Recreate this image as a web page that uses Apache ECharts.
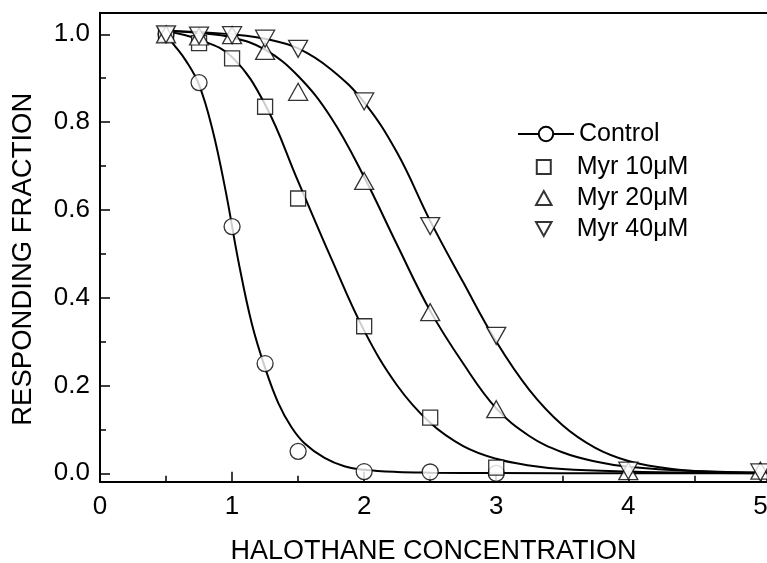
<!DOCTYPE html>
<html>
<head>
<meta charset="utf-8">
<script src="https://cdn.jsdelivr.net/npm/echarts@6/dist/echarts.min.js"></script>
<style>
  html, body { margin: 0; padding: 0; background: #fff; }
  #chart { width: 767px; height: 563px; }
</style>
</head>
<body>
<div id="chart"></div>
<script>
// measured points
var pointX = [0.5, 0.75, 1.0, 1.25, 1.5, 2.0, 2.5, 3.0, 4.0, 5.0];
var controlPts = [1.0, 0.89, 0.562, 0.25, 0.05, 0.004, 0.003, 0.0];
var myr10Pts = [1.0, 0.98, 0.945, 0.835, 0.626, 0.335, 0.127, 0.013];
var myr20Pts = [1.0, 0.995, 0.998, 0.962, 0.869, 0.666, 0.367, 0.146, 0.005, 0.006];
var myr40Pts = [1.0, 0.997, 0.998, 0.99, 0.967, 0.847, 0.563, 0.313, 0.006, 0.002];

// fitted curves
var controlCurveX = [0.48, 0.55, 0.65, 0.75, 0.85, 0.95, 1.05, 1.15, 1.25, 1.35, 1.45, 1.55, 1.7, 1.85, 2.0, 2.25, 2.5, 3.0, 4.0, 5.05];
var controlCurveY = [1.008, 0.98, 0.94, 0.885, 0.785, 0.645, 0.48, 0.34, 0.24, 0.16, 0.105, 0.068, 0.035, 0.016, 0.008, 0.003, 0.0015, 0.0005, 0.0, 0.0];
var myr10CurveX = [0.48, 0.75, 1.0, 1.25, 1.5, 1.75, 2.0, 2.25, 2.5, 2.75, 3.0, 3.25, 3.5, 4.0, 4.5, 5.05];
var myr10CurveY = [1.008, 0.988, 0.948, 0.84, 0.665, 0.49, 0.325, 0.2, 0.115, 0.062, 0.033, 0.018, 0.01, 0.004, 0.001, 0.0];
var myr20CurveX = [0.48, 0.75, 1.0, 1.25, 1.5, 1.75, 2.0, 2.25, 2.5, 2.75, 3.0, 3.25, 3.5, 3.75, 4.0, 4.5, 5.05];
var myr20CurveY = [1.008, 1.003, 0.993, 0.965, 0.905, 0.81, 0.675, 0.52, 0.37, 0.25, 0.148, 0.085, 0.048, 0.027, 0.015, 0.005, 0.001];
var myr40CurveX = [0.48, 0.75, 1.0, 1.25, 1.5, 1.75, 2.0, 2.25, 2.5, 2.75, 3.0, 3.25, 3.5, 3.75, 4.0, 4.25, 4.5, 5.05];
var myr40CurveY = [1.008, 1.005, 1.0, 0.99, 0.968, 0.92, 0.845, 0.73, 0.575, 0.435, 0.3, 0.19, 0.11, 0.058, 0.028, 0.013, 0.005, 0.001];

var xMax = 5.05;

function zip(xs, ys) {
    return ys.map(function (y, i) { return [xs[i], y]; });
}

var font = "'Liberation Sans', Arial, sans-serif";
var chart = echarts.init(document.getElementById("chart"));

var markStyle = { color: "#fff", borderColor: "#000", borderWidth: 1.3 };
var curveStyle = { color: "#000", width: 2 };
var black = { color: "#000", width: 2 };

// path symbols keep their aspect in the legend
var squareSym = "path://M0,0L16,0L16,16L0,16Z";
var upSym = "path://M10,0L20,18L0,18Z";
var downSym = "path://M0,0L20,0L10,18Z";

function curve(name, xs, ys) {
    return {
        name: name, type: "line", xAxisIndex: 2, yAxisIndex: 1, data: zip(xs, ys),
        symbol: "circle", showSymbol: false, smooth: 0.4, clip: false,
        lineStyle: curveStyle, itemStyle: markStyle, z: 2, silent: true
    };
}

function points(name, ys, symbol, size, z) {
    return {
        name: name, type: "scatter", xAxisIndex: 2, yAxisIndex: 1, data: zip(pointX, ys),
        symbol: symbol, symbolSize: size, clip: false, itemStyle: markStyle, z: z
    };
}

var legendText = { fontSize: 25, lineHeight: 26, fontFamily: font, color: "#000" };

chart.setOption({
    animation: false,
    backgroundColor: "#fff",
    textStyle: { fontFamily: font, color: "#000" },
    grid: [
        { left: 100, right: 0, top: 12.7, bottom: 81.3, outerBoundsMode: "none" },   // frame
        { left: 100, right: 0, top: 34.3, bottom: 89.7, outerBoundsMode: "none" }    // data 0..1
    ],
    legend: [
        {
            data: ["Control"], orient: "vertical", left: 512, top: 116,
            itemWidth: 56, itemHeight: 18, itemGap: 5, symbolKeepAspect: true,
            textStyle: legendText
        },
        {
            data: ["Myr 10μM", "Myr 20μM", "Myr 40μM"], orient: "vertical", left: 530, top: 149,
            itemWidth: 56, itemHeight: 14, itemGap: 5, symbolKeepAspect: true,
            textStyle: legendText
        }
    ],
    xAxis: [
        {
            gridIndex: 0, type: "value", min: 0, max: xMax, interval: 1,
            name: "HALOTHANE CONCENTRATION", nameLocation: "middle", nameGap: 56,
            nameTextStyle: { fontSize: 27, fontFamily: font, color: "#000" },
            axisLine: { show: true, lineStyle: black },
            axisTick: { inside: true, length: 10, lineStyle: { color: "#000", width: 1.5 } },
            minorTick: { show: true, splitNumber: 2, length: 6, lineStyle: { color: "#000", width: 1.5 } },
            axisLabel: { fontSize: 26, margin: 12, color: "#000", fontFamily: font, showMaxLabel: false },
            splitLine: { show: false }
        },
        {
            gridIndex: 0, type: "value", position: "top", min: 0, max: xMax,
            axisLine: { show: true, lineStyle: black },
            axisTick: { show: false }, axisLabel: { show: false }, splitLine: { show: false }
        },
        {
            gridIndex: 1, type: "value", min: 0, max: xMax, show: false
        }
    ],
    yAxis: [
        {
            gridIndex: 0, type: "value", min: 0, max: 1,
            name: "RESPONDING FRACTION", nameLocation: "middle", nameGap: 63,
            nameTextStyle: { fontSize: 27.5, fontFamily: font, color: "#000", padding: [0, 24, 0, 0] },
            axisLine: { show: true, lineStyle: black },
            axisTick: { show: false }, axisLabel: { show: false }, splitLine: { show: false }
        },
        {
            gridIndex: 1, type: "value", min: 0, max: 1, interval: 0.2,
            axisLine: { show: false },
            axisTick: { show: true, inside: true, length: 10, lineStyle: { color: "#000", width: 1.5 } },
            minorTick: { show: true, splitNumber: 2, length: 6, lineStyle: { color: "#000", width: 1.5 } },
            axisLabel: {
                fontSize: 26, margin: 10, color: "#000", fontFamily: font,
                formatter: function (v) { return v.toFixed(1); }
            },
            splitLine: { show: false }
        }
    ],
    series: [
        curve("Control", controlCurveX, controlCurveY),
        curve("c10", myr10CurveX, myr10CurveY),
        curve("c20", myr20CurveX, myr20CurveY),
        curve("c40", myr40CurveX, myr40CurveY),
        points("ctrlPts", controlPts, "circle", 16, 5),
        points("Myr 10μM", myr10Pts, squareSym, 15, 5),
        points("Myr 20μM", myr20Pts, upSym, [19, 17], 5),
        points("Myr 40μM", myr40Pts, downSym, [19, 17], 6)
    ]
});
</script>
</body>
</html>
